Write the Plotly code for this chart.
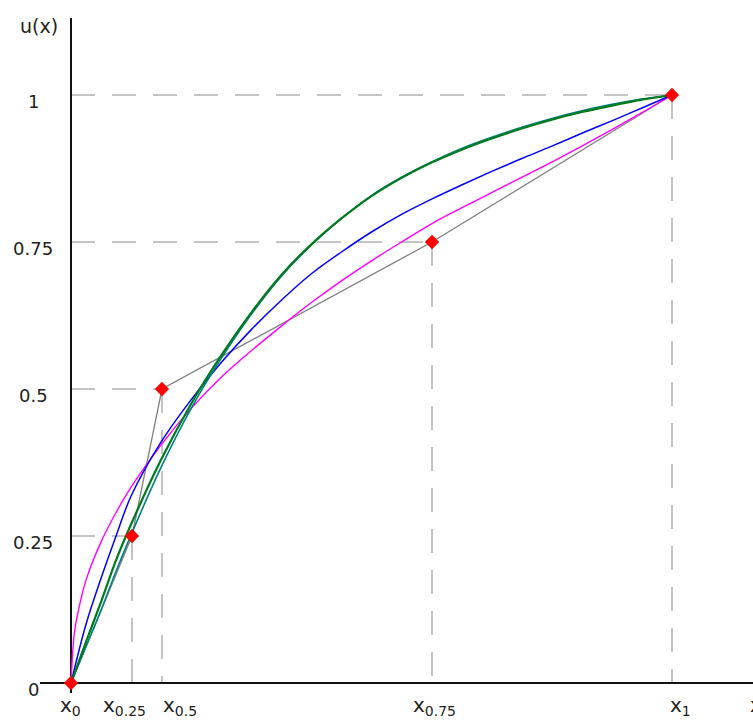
import plotly.graph_objects as go

# ---------------- data ----------------
# key points (x value, utility)
point_x = [0.0, 0.1015, 0.1514, 0.6007, 1.0]
point_u = [0.0, 0.25, 0.5, 0.75, 1.0]
x_tick_labels = ["x<sub>0</sub>", "x<sub>0.25</sub>", "x<sub>0.5</sub>", "x<sub>0.75</sub>", "x<sub>1</sub>"]
u_tick_labels = ["0", "0.25", "0.5", "0.75", "1"]

# curves
green_x = [0, 0.025, 0.05, 0.075, 0.1, 0.15, 0.2, 0.25, 0.3, 0.35, 0.4, 0.45, 0.5, 0.55, 0.6, 0.65, 0.7, 0.75, 0.8, 0.85, 0.9, 0.95, 1.0]
green_u = [0, 0.07, 0.138, 0.209, 0.27, 0.38, 0.475, 0.557, 0.63, 0.694, 0.746, 0.79, 0.828, 0.859, 0.885, 0.907, 0.926, 0.943, 0.958, 0.971, 0.982, 0.992, 1.0]

teal_x = [0, 0.025, 0.05, 0.075, 0.1, 0.15, 0.2, 0.25, 0.3, 0.35, 0.4, 0.45, 0.5, 0.55, 0.6, 0.65, 0.7, 0.75, 0.8, 0.85, 0.9, 0.95, 1.0]
teal_u = [0, 0.062, 0.124, 0.19, 0.252, 0.367, 0.467, 0.552, 0.627, 0.692, 0.745, 0.79, 0.829, 0.86, 0.886, 0.909, 0.928, 0.945, 0.96, 0.973, 0.984, 0.993, 1.0]

blue_x = [0, 0.025, 0.05, 0.075, 0.1, 0.15, 0.2, 0.25, 0.3, 0.35, 0.4, 0.45, 0.5, 0.55, 0.6, 0.65, 0.7, 0.75, 0.8, 0.85, 0.9, 0.95, 1.0]
blue_u = [0, 0.10, 0.178, 0.25, 0.318, 0.41, 0.482, 0.545, 0.601, 0.651, 0.696, 0.733, 0.767, 0.797, 0.823, 0.847, 0.870, 0.892, 0.913, 0.935, 0.956, 0.978, 1.0]

magenta_x = [0, 0.005, 0.01, 0.025, 0.05, 0.075, 0.1, 0.15, 0.2, 0.25, 0.3, 0.35, 0.4, 0.45, 0.5, 0.55, 0.6, 0.65, 0.7, 0.75, 0.8, 0.85, 0.9, 0.95, 1.0]
magenta_u = [0, 0.08, 0.112, 0.175, 0.24, 0.29, 0.333, 0.405, 0.467, 0.52, 0.565, 0.607, 0.647, 0.684, 0.718, 0.75, 0.781, 0.808, 0.834, 0.86, 0.886, 0.913, 0.941, 0.97, 1.0]

# ---------------- layout helpers ----------------
W, H = 753, 720
X0PX, X1PX = 71, 672      # pixel of x=0 and x=1
Y0PX, Y1PX = 683, 95      # pixel of u=0 and u=1
sx = (X1PX - X0PX)
sy = (Y0PX - Y1PX)
def px2x(p):
    return (p - X0PX) / sx
def px2y(p):
    return (Y0PX - p) / sy

x_range = [px2x(0), px2x(W)]
y_range = [px2y(H), px2y(0)]

FONT = "DejaVu Sans"
TXT = "#222222"
GUIDE = "#c4c4c4"

fig = go.Figure()

# curves
fig.add_trace(go.Scatter(x=point_x, y=point_u, mode="lines",
                         line=dict(color="#808080", width=1.3), hoverinfo="skip"))
fig.add_trace(go.Scatter(x=magenta_x, y=magenta_u, mode="lines", line_shape="spline",
                         line=dict(color="#ff00ff", width=1.4), hoverinfo="skip"))
fig.add_trace(go.Scatter(x=blue_x, y=blue_u, mode="lines", line_shape="spline",
                         line=dict(color="#0000ff", width=1.5), hoverinfo="skip"))
fig.add_trace(go.Scatter(x=teal_x, y=teal_u, mode="lines", line_shape="spline",
                         line=dict(color="#008080", width=1.6), hoverinfo="skip"))
fig.add_trace(go.Scatter(x=green_x, y=green_u, mode="lines", line_shape="spline",
                         line=dict(color="#007a1e", width=2.2), hoverinfo="skip"))
# key points
fig.add_trace(go.Scatter(x=point_x, y=point_u, mode="markers",
                         marker=dict(symbol="diamond", size=11, color="#ff0000",
                                     line=dict(width=0)), hoverinfo="skip"))

shapes = []
# dashed guides
for xv, uv in zip(point_x[1:], point_u[1:]):
    shapes.append(dict(type="line", x0=0, x1=xv, y0=uv, y1=uv, layer="below",
                       line=dict(color=GUIDE, width=2, dash="24px,17px")))
    shapes.append(dict(type="line", x0=xv, x1=xv, y0=uv, y1=0, layer="below",
                       line=dict(color=GUIDE, width=2, dash="24px,17px")))
# axes
shapes.append(dict(type="line", x0=px2x(40), x1=px2x(W), y0=0, y1=0, layer="below",
                   line=dict(color="#111111", width=2)))
shapes.append(dict(type="line", x0=0, x1=0, y0=px2y(693), y1=px2y(18), layer="below",
                   line=dict(color="#111111", width=2)))

annotations = []
# u tick labels
for uv, lab in zip(point_u, u_tick_labels):
    annotations.append(dict(x=px2x(33), y=uv, text=lab, showarrow=False,
                            xanchor="center", yanchor="middle", yshift=-6,
                            font=dict(family=FONT, size=18, color=TXT)))
# x tick labels (individual offsets from the tick, as in the picture)
x_label_shift = [-13, -31, -1, -21, -4]
for xv, lab, sh in zip(point_x, x_tick_labels, x_label_shift):
    annotations.append(dict(x=xv, y=px2y(691), text=lab, showarrow=False,
                            xanchor="left", yanchor="top", xshift=sh,
                            font=dict(family=FONT, size=20, color=TXT)))
# axis titles
annotations.append(dict(x=px2x(39), y=px2y(26), text="u(x)", showarrow=False,
                        xanchor="center", yanchor="middle",
                        font=dict(family=FONT, size=19, color=TXT)))
annotations.append(dict(x=px2x(748), y=px2y(691), text="x", showarrow=False,
                        xanchor="left", yanchor="top",
                        font=dict(family=FONT, size=20, color=TXT)))

fig.update_layout(
    width=W, height=H,
    margin=dict(l=0, r=0, t=0, b=0),
    paper_bgcolor="white", plot_bgcolor="white",
    showlegend=False,
    xaxis=dict(range=x_range, visible=False, fixedrange=True),
    yaxis=dict(range=y_range, visible=False, fixedrange=True),
    shapes=shapes, annotations=annotations,
)

fig.write_html("out.html", config={"displayModeBar": False},
               post_script="document.body.style.margin='0';document.body.style.overflow='hidden';")
